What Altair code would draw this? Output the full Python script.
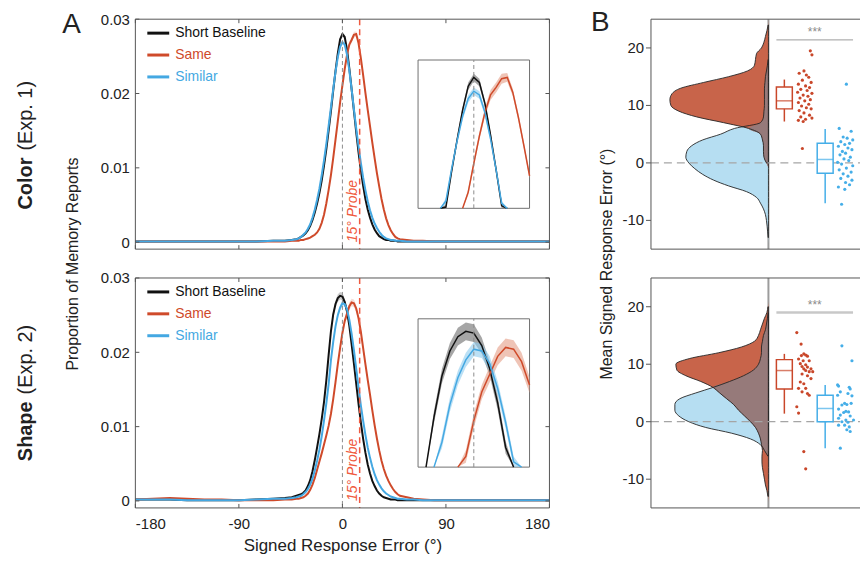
import altair as alt
import pandas as pd

FONT = "Liberation Sans"
INK = "#222222"
FRAME = "#555555"

# ---------------- text ----------------
SERIES = ["Short Baseline", "Same", "Similar"]
EXPERIMENTS = ["Color", "Shape"]
ROW_TITLES = ["Color", "Shape"]
ROW_SUBTITLES = ["(Exp. 1)", "(Exp. 2)"]
PANEL_LETTERS = ["A", "B"]
PROBE_LABEL = "15° Probe"
X_TITLE = "Signed Response Error (°)"
Y_TITLE_A = "Proportion of Memory Reports"
Y_TITLE_B = "Mean Signed Response Error (°)"
GROUPS = ["Same", "Similar"]
SIG_LABEL = "***"

X_TICKS = [-180, -90, 0, 90, 180]
Y_TICKS = [0, 0.01, 0.02, 0.03]
B_TICKS = [-10, 0, 10, 20]
PROBE = 15

# ---------------- panel A: distributions of signed error ----------------
ERR_X = [-180, -165, -150, -135, -120, -105, -90, -75, -60, -50, -44,
         -40, -38, -36, -34, -32, -30, -28, -26, -24, -22, -20, -18, -16, -14, -12, -10, -8, -6, -4, -2,
         0, 2, 4, 6, 8, 10, 12, 14, 16, 18, 20, 22, 24, 26, 28, 30, 32, 34, 36, 38, 40, 42, 44, 46, 48, 50,
         56, 62, 70, 80, 95, 110, 125, 140, 155, 170, 180]

COLOR_BASE = [0.0001, 0.0001, 0.0001, 0.0001, 0.0001, 0.0001, 0.0001, 0.0001, 0.0002, 0.0002, 0.0003,
              0.0004, 0.0005, 0.0007, 0.0009, 0.0012, 0.0016, 0.0022, 0.0030, 0.0040, 0.0052,
              0.0066, 0.0083, 0.0103, 0.0125, 0.0150, 0.0176, 0.0204, 0.0230, 0.0254, 0.0273,
              0.0280, 0.0276, 0.0259, 0.0234, 0.0206, 0.0177, 0.0148, 0.0121, 0.0097, 0.0076,
              0.0058, 0.0044, 0.0033, 0.0024, 0.0017, 0.0012, 0.0008, 0.0006, 0.0004, 0.0003,
              0.0003, 0.0002, 0.0002, 0.0002, 0.0001, 0.0001,
              0.0001, 0.0001, 0.0001, 0.0001, 0.0001, 0.0001, 0.0001, 0.0001, 0.0001, 0.0001, 0.0001]
COLOR_SAME = [0.0001, 0.0001, 0.0001, 0.0001, 0.0001, 0.0001, 0.0001, 0.0001, 0.0001, 0.0001, 0.0002,
              0.0002, 0.0002, 0.0003, 0.0003, 0.0004, 0.0005, 0.0006, 0.0008, 0.0010, 0.0013,
              0.0018, 0.0026, 0.0037, 0.0052, 0.0070, 0.0090, 0.0113, 0.0138, 0.0163, 0.0188,
              0.0211, 0.0233, 0.0252, 0.0266, 0.0272, 0.0279, 0.0280, 0.0268, 0.0248, 0.0225,
              0.0201, 0.0178, 0.0156, 0.0134, 0.0113, 0.0093, 0.0075, 0.0058, 0.0044, 0.0032,
              0.0023, 0.0016, 0.0011, 0.0007, 0.0005, 0.0004,
              0.0003, 0.0002, 0.0002, 0.0001, 0.0001, 0.0001, 0.0001, 0.0001, 0.0001, 0.0001, 0.0001]
COLOR_SIM = [0.0001, 0.0001, 0.0001, 0.0001, 0.0001, 0.0001, 0.0001, 0.0001, 0.0002, 0.0002, 0.0003,
             0.0004, 0.0005, 0.0007, 0.0010, 0.0013, 0.0018, 0.0024, 0.0033, 0.0044, 0.0057,
             0.0072, 0.0090, 0.0110, 0.0132, 0.0156, 0.0181, 0.0206, 0.0229, 0.0249, 0.0263,
             0.0269, 0.0266, 0.0252, 0.0231, 0.0206, 0.0179, 0.0153, 0.0129, 0.0107, 0.0087,
             0.0070, 0.0055, 0.0043, 0.0033, 0.0025, 0.0019, 0.0014, 0.0010, 0.0007, 0.0005,
             0.0004, 0.0003, 0.0003, 0.0002, 0.0002, 0.0002,
             0.0001, 0.0001, 0.0001, 0.0001, 0.0001, 0.0001, 0.0001, 0.0001, 0.0001, 0.0001, 0.0001]
SHAPE_BASE = [0.0002, 0.0002, 0.0002, 0.0001, 0.0001, 0.0001, 0.0001, 0.0002, 0.0003, 0.0004, 0.0005,
              0.0007, 0.0008, 0.0009, 0.0011, 0.0014, 0.0020, 0.0028, 0.0040, 0.0055, 0.0072,
              0.0090, 0.0110, 0.0133, 0.0162, 0.0196, 0.0228, 0.0251, 0.0265, 0.0273, 0.0276,
              0.0275, 0.0268, 0.0255, 0.0236, 0.0211, 0.0185, 0.0158, 0.0131, 0.0106, 0.0084,
              0.0065, 0.0049, 0.0037, 0.0027, 0.0020, 0.0014, 0.0010, 0.0007, 0.0005, 0.0004,
              0.0003, 0.0002, 0.0002, 0.0002, 0.0001, 0.0001,
              0.0001, 0.0001, 0.0001, 0.0001, 0.0001, 0.0001, 0.0001, 0.0001, 0.0001, 0.0001, 0.0001]
SHAPE_SAME = [0.0002, 0.0003, 0.0004, 0.0003, 0.0002, 0.0002, 0.0001, 0.0001, 0.0001, 0.0002, 0.0002,
              0.0003, 0.0003, 0.0004, 0.0005, 0.0007, 0.0010, 0.0015, 0.0022, 0.0031, 0.0042,
              0.0053, 0.0064, 0.0076, 0.0088, 0.0101, 0.0117, 0.0137, 0.0160, 0.0184, 0.0206,
              0.0226, 0.0242, 0.0252, 0.0262, 0.0267, 0.0266, 0.0259, 0.0246, 0.0228, 0.0206,
              0.0184, 0.0163, 0.0143, 0.0122, 0.0102, 0.0084, 0.0068, 0.0054, 0.0043, 0.0034,
              0.0027, 0.0021, 0.0016, 0.0012, 0.0009, 0.0007,
              0.0005, 0.0003, 0.0002, 0.0001, 0.0001, 0.0001, 0.0001, 0.0001, 0.0001, 0.0001, 0.0001]
SHAPE_SIM = [0.0002, 0.0002, 0.0002, 0.0001, 0.0001, 0.0001, 0.0001, 0.0002, 0.0003, 0.0003, 0.0004,
             0.0005, 0.0006, 0.0007, 0.0009, 0.0012, 0.0016, 0.0022, 0.0030, 0.0041, 0.0054,
             0.0069, 0.0087, 0.0108, 0.0131, 0.0157, 0.0189, 0.0214, 0.0235, 0.0250, 0.0260,
             0.0266, 0.0265, 0.0258, 0.0244, 0.0225, 0.0203, 0.0178, 0.0153, 0.0129, 0.0108,
             0.0089, 0.0072, 0.0058, 0.0046, 0.0036, 0.0028, 0.0022, 0.0017, 0.0013, 0.0010,
             0.0008, 0.0006, 0.0005, 0.0004, 0.0003, 0.0003,
             0.0002, 0.0002, 0.0001, 0.0001, 0.0001, 0.0001, 0.0001, 0.0001, 0.0001, 0.0001, 0.0001]

# standard error around the peak
SEM_X = [-24, -22, -20, -18, -16, -14, -12, -10, -8, -6, -4, -2, 0, 2, 4, 6, 8, 10, 12, 14, 16, 18, 20, 22, 24]
COLOR_BASE_SEM = [0.0001, 0.0001, 0.0001, 0.0001, 0.00015, 0.00015, 0.0002, 0.0002, 0.0002, 0.00025, 0.00025, 0.0003, 0.0003,
                  0.0003, 0.00025, 0.00025, 0.0002, 0.0002, 0.0002, 0.00015, 0.00015, 0.0001, 0.0001, 0.0001, 0.0001]
COLOR_SAME_SEM = [0.0001, 0.0001, 0.0001, 0.0001, 0.0001, 0.0001, 0.00015, 0.00015, 0.0002, 0.0002, 0.0002, 0.00025, 0.0003,
                  0.0003, 0.00035, 0.0004, 0.0004, 0.0004, 0.00035, 0.0003, 0.0003, 0.00025, 0.0002, 0.0002, 0.00015]
COLOR_SIM_SEM = [0.0001, 0.0001, 0.00015, 0.00015, 0.0002, 0.0002, 0.0002, 0.00025, 0.00025, 0.0003, 0.0003, 0.0003, 0.0003,
                 0.0003, 0.0003, 0.00025, 0.00025, 0.0002, 0.0002, 0.0002, 0.00015, 0.00015, 0.0001, 0.0001, 0.0001]
SHAPE_BASE_SEM = [0.0001, 0.0001, 0.00015, 0.0002, 0.0002, 0.00025, 0.0003, 0.00035, 0.0004, 0.00045, 0.0005, 0.0005, 0.0005,
                  0.00045, 0.0004, 0.0004, 0.00035, 0.0003, 0.0003, 0.00025, 0.0002, 0.0002, 0.00015, 0.0001, 0.0001]
SHAPE_SAME_SEM = [0.0001, 0.0001, 0.0001, 0.0001, 0.00015, 0.00015, 0.0002, 0.0002, 0.00025, 0.0003, 0.0003, 0.00035, 0.0004,
                  0.0004, 0.00045, 0.0005, 0.0005, 0.0005, 0.0005, 0.00045, 0.0004, 0.00035, 0.0003, 0.00025, 0.0002]
SHAPE_SIM_SEM = [0.0001, 0.0001, 0.00015, 0.0002, 0.0002, 0.00025, 0.0003, 0.0003, 0.00035, 0.0004, 0.0004, 0.0004, 0.0004,
                 0.0004, 0.0004, 0.0004, 0.00035, 0.0003, 0.0003, 0.00025, 0.0002, 0.0002, 0.00015, 0.0001, 0.0001]

# zoomed inset windows (data units)
INSET_X = [[-20, 20], [-14, 14]]
INSET_Y = [[0.0175, 0.0294], [0.020, 0.0283]]

# ---------------- panel B: mean signed error per participant ----------------
DENS_V = [-15, -14, -13, -12, -11, -10, -9, -8, -7, -6, -5, -4, -3, -2, -1,
          0, 1, 2, 3, 4, 5, 6, 7, 8, 9, 10, 11, 12, 13, 14, 15, 16, 17, 18, 19, 20, 21, 22, 23, 24, 25]
COLOR_SAME_DENS = [0, 0, 0, 0, 0, 0, 0, 0, 0, 0, 0, 0, 0, 0, 0,
                   0.002, 0.0045, 0.005, 0.005, 0.006, 0.008, 0.020, 0.045, 0.072, 0.090, 0.098, 0.099, 0.097,
                   0.088, 0.065, 0.040, 0.021, 0.014, 0.013, 0.012, 0.007, 0.0045, 0.003, 0.0015, 0.0003, 0]
COLOR_SIM_DENS = [0, 0, 0.0003, 0.0008, 0.0013, 0.002, 0.003, 0.005, 0.008, 0.012, 0.022, 0.040, 0.055, 0.066, 0.074,
                  0.080, 0.083, 0.082, 0.077, 0.066, 0.048, 0.034, 0.008, 0.005, 0.0045, 0.004, 0.004, 0.004,
                  0.004, 0.0035, 0.003, 0.002, 0.001, 0.0003, 0, 0, 0, 0, 0, 0, 0]
SHAPE_SAME_DENS = [0, 0, 0.0005, 0.0015, 0.003, 0.004, 0.005, 0.006, 0.0065, 0.0065, 0.006, 0.007, 0.008, 0.010, 0.013,
                   0.018, 0.024, 0.030, 0.035, 0.042, 0.049, 0.056, 0.068, 0.083, 0.092, 0.093, 0.079, 0.050,
                   0.027, 0.014, 0.010, 0.008, 0.006, 0.004, 0.0015, 0.0005, 0, 0, 0, 0, 0]
SHAPE_SIM_DENS = [0, 0, 0, 0, 0, 0, 0, 0, 0, 0.0005, 0.004, 0.008, 0.018, 0.037, 0.063,
                  0.080, 0.090, 0.094, 0.094, 0.089, 0.073, 0.055, 0.039, 0.025, 0.015, 0.010, 0.008, 0.007,
                  0.007, 0.006, 0.005, 0.003, 0.002, 0.001, 0.0003, 0, 0, 0, 0, 0, 0]

# box summaries: [whisker low, q1, median, q3, whisker high]
COLOR_SAME_BOX = [7.2, 9.4, 10.8, 13.2, 14.5]
COLOR_SIM_BOX = [-7.0, -1.8, 0.6, 3.4, 5.9]
SHAPE_SAME_BOX = [1.4, 5.7, 8.9, 10.8, 11.8]
SHAPE_SIM_BOX = [-4.6, 0.0, 2.3, 4.6, 6.4]

COLOR_SAME_PTS = [19.5, 18.8, 16.0, 15.6, 15.3, 14.9, 14.4, 14.0, 13.7, 13.4, 13.1, 12.8, 12.6, 12.3, 12.1, 11.8, 11.6,
                  11.3, 11.0, 10.8, 10.5, 10.2, 9.9, 9.6, 9.4, 9.1, 8.7, 8.3, 8.0, 7.8, 7.6, 7.4, 7.2, 2.5]
COLOR_SAME_JIT = [0.85, 0.95, 0.45, 0.15, 0.60, 0.75, 0.35, 0.90, 0.10, 0.55, 0.80, 0.25, 0.65, 0.05, 0.95, 0.40, 0.70,
                  0.20, 0.85, 0.50, 0.10, 0.75, 0.30, 0.60, 0.90, 0.15, 0.45, 0.80, 0.25, 0.95, 0.55, 0.10, 0.40, 0.35]
COLOR_SIM_PTS = [13.7, 6.0, 5.5, 4.5, 4.3, 4.0, 3.7, 3.4, 3.2, 2.9, 2.6, 2.3, 2.0, 1.7, 1.4, 1.0, 0.7,
                 0.4, 0.1, -0.2, -0.5, -0.9, -1.2, -1.6, -1.9, -2.3, -2.7, -3.0, -3.4, -3.8, -4.2, -4.6, -7.2]
COLOR_SIM_JIT = [0.55, 0.10, 0.85, 0.35, 0.60, 0.95, 0.20, 0.75, 0.45, 0.05, 0.65, 0.90, 0.30, 0.50, 0.15, 0.80, 0.40,
                 0.70, 0.00, 0.25, 0.95, 0.55, 0.10, 0.85, 0.35, 0.65, 0.20, 0.90, 0.50, 0.75, 0.05, 0.45, 0.25]
SHAPE_SAME_PTS = [15.5, 13.5, 11.8, 11.5, 11.6, 11.4, 10.9, 10.6, 10.6, 10.1, 9.9, 9.6, 9.5, 9.2, 9.2, 8.9,
                  8.7, 8.7, 8.3, 8.0, 7.5, 6.9, 6.6, 5.8, 5.8, 5.2, 4.9, 4.6, 2.6, 1.5, -5.2, -8.2]
SHAPE_SAME_JIT = [0.0, 0.27, 0.44, 0.29, 0.56, 0.67, 0.11, 0.40, 0.78, 0.22, 0.56, 0.33, 0.67, 0.89, 0.44, 0.56,
                  0.78, 1.0, 0.33, 0.67, 0.89, 0.22, 0.44, 0.11, 0.56, 0.33, 0.67, 0.78, 0.0, 0.11, 0.44, 0.56]
SHAPE_SIM_PTS = [13.2, 10.6, 6.4, 6.2, 6.0, 5.7, 5.2, 4.9, 4.6, 4.5, 3.2, 3.0, 2.9, 3.2, 2.2, 1.8,
                 1.7, 1.6, 1.15, 1.0, 0.6, 0.3, 0.3, 0.0, -0.1, -0.6, -0.6, -0.9, -1.4, -1.7, -4.6]
SHAPE_SIM_JIT = [0.27, 0.9, 0.0, 0.06, 0.73, 0.79, 0.17, 0.65, 0.0, 0.9, 0.44, 0.58, 0.27, 0.85, 0.06, 0.52,
                 0.69, 0.38, 0.17, 0.79, 0.06, 0.52, 1.0, 0.27, 0.65, 0.06, 0.44, 0.73, 0.58, 0.79, 0.17]
SIG_Y = [21.4, 19.0]

# ---------------- styles ----------------
LINE_COLORS = ["#111111", "#cf4a2a", "#44a8e2"]
BAND_COLORS = ["#6a6a6a", "#e59c86", "#8ecbef"]
BOX_COLORS = ["#c9472a", "#45aee8"]
RED_FILL = "#c8644a"
BLUE_FILL = "#b6def2"
OVERLAP_FILL = "#967a7a"
OUTLINE = "#262626"
PROBE_COLOR = "#ef5a40"
W_A, W_B, H = 416, 210, 231

# ---------------- tables ----------------
line_rows, band_rows = [], []
A_SETS = {
    "Color": ([COLOR_BASE, COLOR_SAME, COLOR_SIM], [COLOR_BASE_SEM, COLOR_SAME_SEM, COLOR_SIM_SEM]),
    "Shape": ([SHAPE_BASE, SHAPE_SAME, SHAPE_SIM], [SHAPE_BASE_SEM, SHAPE_SAME_SEM, SHAPE_SIM_SEM]),
}
for exp, (curves, sems) in A_SETS.items():
    for s, arr, sem in zip(SERIES, curves, sems):
        assert len(arr) == len(ERR_X) and len(sem) == len(SEM_X)
        lookup = dict(zip(ERR_X, arr))
        for x, y in zip(ERR_X, arr):
            line_rows.append({"exp": exp, "series": s, "x": x, "y": y})
        for x, e in zip(SEM_X, sem):
            m = lookup[x]
            band_rows.append({"exp": exp, "series": s, "x": x, "y": m, "lo": m - e, "hi": m + e})
df_lines = pd.DataFrame(line_rows)
df_band = pd.DataFrame(band_rows)


def inset_rows(df, x0, x1, y0):
    out = []
    for _, g in df.groupby("series", sort=False):
        g = g.sort_values("x")
        g = g[(g.x >= x0) & (g.x <= x1)].reset_index(drop=True)
        above = g.y >= y0
        keep = above | above.shift(1, fill_value=False) | above.shift(-1, fill_value=False)
        out.append(g[keep])
    return pd.concat(out)


dens_rows = []
for exp, red, blue in [("Color", COLOR_SAME_DENS, COLOR_SIM_DENS), ("Shape", SHAPE_SAME_DENS, SHAPE_SIM_DENS)]:
    assert len(red) == len(DENS_V) and len(blue) == len(DENS_V)
    for v, r, b in zip(DENS_V, red, blue):
        dens_rows.append({"exp": exp, "v": v, "red": r, "blue": b})
df_dens = pd.DataFrame(dens_rows)

box_rows, pt_rows = [], []
for exp, boxes, pts, jits in [
    ("Color", [COLOR_SAME_BOX, COLOR_SIM_BOX], [COLOR_SAME_PTS, COLOR_SIM_PTS], [COLOR_SAME_JIT, COLOR_SIM_JIT]),
    ("Shape", [SHAPE_SAME_BOX, SHAPE_SIM_BOX], [SHAPE_SAME_PTS, SHAPE_SIM_PTS], [SHAPE_SAME_JIT, SHAPE_SIM_JIT]),
]:
    for g, bx, p, j in zip(GROUPS, boxes, pts, jits):
        assert len(p) == len(j)
        box_rows.append({"exp": exp, "group": g, "wlo": bx[0], "q1": bx[1], "med": bx[2], "q3": bx[3], "whi": bx[4]})
        for val, jit in zip(p, j):
            pt_rows.append({"exp": exp, "group": g, "val": val, "jit": jit})
df_box = pd.DataFrame(box_rows)
df_pts = pd.DataFrame(pt_rows)

ONE = pd.DataFrame({"k": [0]})
LEG = pd.DataFrame({"series": SERIES})
B_AXIS = pd.DataFrame({"t": B_TICKS, "lab": [str(t) for t in B_TICKS]})

CS = alt.Scale(domain=SERIES, range=LINE_COLORS)
FS = alt.Scale(domain=SERIES, range=BAND_COLORS)


def label(text, x, y, size, **kw):
    return alt.Chart(ONE).mark_text(text=text, font=FONT, fontSize=size, color=INK, **kw).encode(
        x=alt.value(x), y=alt.value(y))


def panel_a(i):
    exp = EXPERIMENTS[i]
    ln = df_lines[df_lines.exp == exp]
    bd = df_band[df_band.exp == exp]
    ix0, ix1 = INSET_X[i]
    iy0, iy1 = INSET_Y[i]
    ymin, ymax = -0.00094, 0.03
    XS = alt.Scale(domain=[-180, 180], nice=False, zero=False)
    YS = alt.Scale(domain=[ymin, ymax], nice=False, zero=False)
    if i == 1:
        AX = alt.Axis(values=X_TICKS, labelExpr="'' + datum.value", ticks=False, domain=False, grid=False,
                      labelPadding=9, labelFontSize=15, labelColor=INK, labelFont=FONT,
                      title=X_TITLE, titleFontSize=17, titleFontWeight="normal", titleFont=FONT,
                      titleColor=INK, titlePadding=6)
    else:
        AX = None
    AY = alt.Axis(values=Y_TICKS, labelExpr="datum.value == 0 ? '0' : format(datum.value, '.2f')",
                  ticks=False, domain=False, grid=False, labelPadding=6, labelFontSize=15,
                  labelColor=INK, labelFont=FONT, title=None)

    band = alt.Chart(bd).mark_area(opacity=0.35).encode(
        x=alt.X("x:Q", scale=XS, axis=AX), y=alt.Y("lo:Q", scale=YS, axis=AY), y2="hi:Q",
        fill=alt.Fill("series:N", scale=FS, legend=None))
    lines = alt.Chart(ln).mark_line(strokeWidth=2).encode(
        x=alt.X("x:Q", scale=XS, axis=AX), y=alt.Y("y:Q", scale=YS, axis=AY),
        color=alt.Color("series:N", scale=CS, legend=None))
    zero_rule = alt.Chart(ONE).mark_rule(color="#8c8c8c", strokeDash=[4, 3], strokeWidth=1).encode(
        x=alt.XDatum(0, scale=XS, axis=AX))
    probe_rule = alt.Chart(ONE).mark_rule(color=PROBE_COLOR, strokeDash=[6, 4], strokeWidth=1.5).encode(
        x=alt.XDatum(PROBE, scale=XS, axis=AX))
    probe_txt = alt.Chart(ONE).mark_text(text=PROBE_LABEL, angle=270, align="left", baseline="bottom",
                                         fontStyle="italic", fontSize=14, font=FONT, color=PROBE_COLOR).encode(
        x=alt.XDatum(PROBE, scale=XS, axis=AX), y=alt.YDatum(0, scale=YS, axis=AY))
    ty = pd.DataFrame({"t": Y_TICKS})
    tx = pd.DataFrame({"t": X_TICKS})
    tick_l = alt.Chart(ty).mark_rule(color=FRAME).encode(
        y=alt.Y("t:Q", scale=YS, axis=AY), x=alt.value(0), x2=alt.value(4))
    tick_r = alt.Chart(ty).mark_rule(color=FRAME).encode(
        y=alt.Y("t:Q", scale=YS, axis=AY), x=alt.value(W_A - 4), x2=alt.value(W_A))
    tick_b = alt.Chart(tx).mark_rule(color=FRAME).encode(
        x=alt.X("t:Q", scale=XS, axis=AX), y=alt.value(H), y2=alt.value(H - 4))
    tick_t = alt.Chart(tx).mark_rule(color=FRAME).encode(
        x=alt.X("t:Q", scale=XS, axis=AX), y=alt.value(0), y2=alt.value(4))
    fr = [alt.Chart(ONE).mark_rule(color=FRAME, strokeWidth=1).encode(y=alt.YDatum(v, scale=YS, axis=AY))
          for v in (ymin, ymax)]
    fr += [alt.Chart(ONE).mark_rule(color=FRAME, strokeWidth=1).encode(x=alt.XDatum(v, scale=XS, axis=AX))
           for v in (-180, 180)]

    texts = []
    if i == 0:
        texts += [label(ROW_TITLES[0], -104, 139, 20, angle=270, align="right", baseline="alphabetic", fontWeight="bold"),
                  label(ROW_SUBTITLES[0], -104, 132, 20, angle=270, align="left", baseline="alphabetic"),
                  label(PANEL_LETTERS[0], -64, 14, 28, align="center", baseline="alphabetic"),
                  label(Y_TITLE_A, -58, H + 15, 16, angle=270, align="center", baseline="alphabetic")]
    else:
        texts += [label(ROW_TITLES[1], -104, 124, 20, angle=270, align="right", baseline="alphabetic", fontWeight="bold"),
                  label(ROW_SUBTITLES[1], -104, 117, 20, angle=270, align="left", baseline="alphabetic")]

    main = alt.layer(band, lines, zero_rule, probe_rule, probe_txt, tick_l, tick_r, tick_b, tick_t, *fr, *texts)

    IXS = alt.Scale(domain=[ix0, ix1], range=[284, 396], nice=False, zero=False, clamp=True)
    IYS = alt.Scale(domain=[iy0, iy1], range=[190, 41], nice=False, zero=False, clamp=True)
    iln = inset_rows(ln, ix0, ix1, iy0)
    ibd = inset_rows(bd, ix0, ix1, iy0)
    frame = alt.Chart(ONE).mark_rect(fill="white", stroke="#707070", strokeWidth=1).encode(
        x=alt.XDatum(ix0, scale=IXS, axis=None), x2=alt.X2Datum(ix1),
        y=alt.YDatum(iy0, scale=IYS, axis=None), y2=alt.Y2Datum(iy1))
    iband = alt.Chart(ibd).mark_area(opacity=0.6).encode(
        x=alt.X("x:Q", scale=IXS, axis=None), y=alt.Y("lo:Q", scale=IYS, axis=None), y2="hi:Q",
        fill=alt.Fill("series:N", scale=FS, legend=None))
    ilines = alt.Chart(iln).mark_line(strokeWidth=1.5).encode(
        x=alt.X("x:Q", scale=IXS, axis=None), y=alt.Y("y:Q", scale=IYS, axis=None),
        color=alt.Color("series:N", scale=CS, legend=None))
    izero = alt.Chart(ONE).mark_rule(color="#8c8c8c", strokeDash=[4, 3], strokeWidth=1).encode(
        x=alt.XDatum(0, scale=IXS, axis=None), y=alt.YDatum(iy0, scale=IYS, axis=None), y2=alt.Y2Datum(iy1))
    inset = alt.layer(frame, iband, ilines, izero)

    LY = alt.Scale(type="point", domain=SERIES, range=[14, 58], padding=0)
    sw = alt.Chart(LEG).mark_rule(strokeWidth=3).encode(
        x=alt.value(12), x2=alt.value(34), y=alt.Y("series:N", scale=LY, axis=None),
        color=alt.Color("series:N", scale=CS, legend=None))
    lt = alt.Chart(LEG).mark_text(align="left", baseline="middle", fontSize=14, font=FONT).encode(
        x=alt.value(40), y=alt.Y("series:N", scale=LY, axis=None), text="series:N",
        color=alt.Color("series:N", scale=CS, legend=None))
    legend = alt.layer(sw, lt)

    return alt.layer(main, inset, legend).resolve_scale(x="independent", y="independent").properties(
        width=W_A, height=H)


def panel_b(i):
    exp = EXPERIMENTS[i]
    dd = df_dens[df_dens.exp == exp]
    pts = df_pts[df_pts.exp == exp]
    bx = df_box[df_box.exp == exp]
    XD = alt.Scale(domain=[0, 0.118], range=[118, 0], nice=False, zero=True)
    YB = alt.Scale(domain=[-15, 25], nice=False, zero=False)
    XG = alt.Scale(type="point", domain=GROUPS, range=[134, 175], padding=0)
    CG = alt.Scale(domain=GROUPS, range=BOX_COLORS)

    divider = alt.Chart(ONE).mark_rule(color="#9c9c9c", strokeWidth=2).encode(
        x=alt.XDatum(0, scale=XD, axis=None), y=alt.value(0), y2=alt.value(H))

    def area(field, base, **kw):
        return base.mark_area(orient="horizontal", interpolate="monotone", **kw).encode(
            y=alt.Y("v:Q", scale=YB, axis=None), x=alt.X(f"{field}:Q", scale=XD, axis=None))

    blue_fill = area("blue", alt.Chart(dd), color=BLUE_FILL)
    red_fill = area("red", alt.Chart(dd), color=RED_FILL)
    overlap = area("ov", alt.Chart(dd).transform_calculate(ov="min(datum.red, datum.blue)"), color=OVERLAP_FILL)
    blue_out = area("blue", alt.Chart(dd).transform_filter("datum.blue > 0"),
                    fillOpacity=0, stroke=OUTLINE, strokeWidth=0.9)
    red_out = area("red", alt.Chart(dd).transform_filter("datum.red > 0"),
                   fillOpacity=0, stroke=OUTLINE, strokeWidth=0.9)
    zero = alt.Chart(ONE).mark_rule(color="#a5a5a5", strokeDash=[8, 5], strokeWidth=1.2).encode(
        y=alt.YDatum(0, scale=YB, axis=None), x=alt.value(0), x2=alt.value(W_B))
    top = alt.Chart(ONE).mark_rule(color=FRAME, strokeWidth=1).encode(
        y=alt.YDatum(25, scale=YB, axis=None), x=alt.value(0), x2=alt.value(W_B))
    bottom = alt.Chart(ONE).mark_rule(color=FRAME, strokeWidth=1).encode(
        y=alt.YDatum(-15, scale=YB, axis=None), x=alt.value(0), x2=alt.value(W_B))
    # left axis: frame line, outward ticks, labels
    left_line = alt.Chart(ONE).mark_rule(color=FRAME, strokeWidth=1).encode(
        x=alt.value(0), y=alt.YDatum(-15, scale=YB, axis=None), y2=alt.Y2Datum(25))
    yticks = alt.Chart(B_AXIS).mark_rule(color=FRAME, strokeWidth=1).encode(
        x=alt.value(-5), x2=alt.value(0), y=alt.Y("t:Q", scale=YB, axis=None))
    ylabels = alt.Chart(B_AXIS).mark_text(align="right", baseline="middle", dx=-7, fontSize=15, font=FONT,
                                          color=INK).encode(
        x=alt.value(0), y=alt.Y("t:Q", scale=YB, axis=None), text="lab:N")

    texts = []
    if i == 0:
        texts += [label(PANEL_LETTERS[1], -51, 12, 28, align="center", baseline="alphabetic"),
                  label(Y_TITLE_B, -39, H + 15, 16, angle=270, align="center", baseline="alphabetic")]

    dens = alt.layer(divider, blue_fill, red_fill, overlap, blue_out, red_out, zero, top, bottom,
                     left_line, yticks, ylabels, *texts)

    xg = alt.X("group:N", scale=XG, axis=None)
    cg = alt.Color("group:N", scale=CG, legend=None)
    sig_style = dict(color="#9a9a9a", strokeWidth=1) if i == 0 else dict(color="#c8c8c8", strokeWidth=2.5)
    sig = alt.Chart(ONE).mark_rule(xOffset=-8, x2Offset=28, **sig_style).encode(
        x=alt.XDatum("Same", type="nominal", scale=XG, axis=None), x2=alt.X2Datum("Similar"),
        y=alt.YDatum(SIG_Y[i], scale=YB, axis=None))
    stars = alt.Chart(ONE).mark_text(text=SIG_LABEL, dx=30.5, dy=-1, baseline="bottom", fontSize=12,
                                     font=FONT, color="#8a8a8a").encode(
        x=alt.XDatum("Same", type="nominal", scale=XG, axis=None), y=alt.YDatum(SIG_Y[i], scale=YB, axis=None))
    whisk = alt.Chart(bx).mark_rule(strokeWidth=1.5).encode(
        x=xg, y=alt.Y("wlo:Q", scale=YB, axis=None), y2="whi:Q", color=cg)
    box = alt.Chart(bx).mark_bar(size=16, fill="white", strokeWidth=1.5).encode(
        x=xg, y=alt.Y("q1:Q", scale=YB, axis=None), y2="q3:Q",
        stroke=alt.Stroke("group:N", scale=CG, legend=None))
    med = alt.Chart(bx).mark_tick(size=16, thickness=1.5).encode(
        x=xg, y=alt.Y("med:Q", scale=YB, axis=None), color=cg)
    dots = alt.Chart(pts).mark_circle(size=10, opacity=1).encode(
        x=xg, xOffset=alt.XOffset("jit:Q", scale=alt.Scale(domain=[0, 1], range=[12.5, 28.5])),
        y=alt.Y("val:Q", scale=YB, axis=None), color=cg)
    boxes = alt.layer(sig, stars, whisk, box, med, dots)

    return alt.layer(dens, boxes).resolve_scale(x="independent").properties(width=W_B, height=H)


chart = alt.concat(
    panel_a(0), panel_b(0), panel_a(1), panel_b(1),
    columns=2, spacing={"row": 29, "column": 102}, bounds="flush",
).resolve_scale(
    color="independent", fill="independent", stroke="independent"
).properties(
    padding={"left": 16, "top": 8, "right": 0, "bottom": 0},
    background="white",
).configure_view(stroke=None, fill=None).configure_axis(grid=False)

chart.save("out.html", embed_options={"renderer": "svg", "actions": False})
